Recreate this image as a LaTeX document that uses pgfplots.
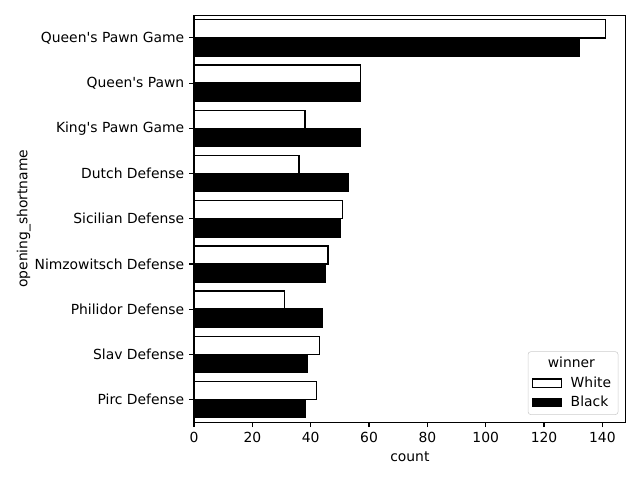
\documentclass[border=0pt]{standalone}
\usepackage{pgfplots}
\pgfplotsset{compat=1.18}
\usepackage{fontspec}
\setmainfont{DejaVu Sans}
\begin{document}
\begin{tikzpicture}
\begin{axis}[
  scale only axis,
  width=310.8pt, height=293pt,
  xmin=0, xmax=148,
  ymin=-0.5, ymax=8.5,
  y dir=reverse,
  xtick={0,20,...,140},
  ytick={0,...,8},
  yticklabels={Queen\textquotesingle s Pawn Game, Queen\textquotesingle s Pawn, King\textquotesingle s Pawn Game, Dutch Defense, Sicilian Defense, Nimzowitsch Defense, Philidor Defense, Slav Defense, Pirc Defense},
  /pgf/number format/assume math mode=true,
  tick align=outside,
  major tick length=3.5pt,
  every tick/.style={black, line width=0.8pt},
  axis line style={line width=0.8pt},
  xtick pos=bottom, ytick pos=left,
  xlabel={count},
  ylabel={opening\_shortname},
  ylabel style={xshift=0pt, yshift=-4pt},
  legend style={at={(1,0)}, anchor=south east, xshift=-5.3pt, yshift=5.3pt,
    draw=black!20, rounded corners=2pt, font=\fontsize{10}{12}\selectfont,
    row sep=1pt, inner xsep=3pt, inner ysep=2pt,
    /tikz/every odd column/.append style={column sep=4pt}},
  legend cell align=left,
  legend image code/.code={\draw[#1, sharp corners, line width=0.8pt] (0pt,-3pt) rectangle (20.9pt,3pt);},
]
\addlegendimage{empty legend}
\addlegendentry{\hspace*{-16.5pt}winner}
\addplot[xbar, bar width=0.4, bar shift=-0.2, fill=white, draw=black, line width=1pt]
  coordinates {(141,0) (57,1) (38,2) (36,3) (51,4) (46,5) (31,6) (43,7) (42,8)};
\addlegendentry{White}
\addplot[xbar, bar width=0.4, bar shift=0.2, fill=black, draw=black, line width=1pt]
  coordinates {(132,0) (57,1) (57,2) (53,3) (50,4) (45,5) (44,6) (39,7) (38,8)};
\addlegendentry{Black}
\end{axis}
\path ([xshift=-139.7pt,yshift=-41.5pt]current axis.south west) rectangle ([xshift=10.3pt,yshift=11pt]current axis.north east);
\end{tikzpicture}
\end{document}
